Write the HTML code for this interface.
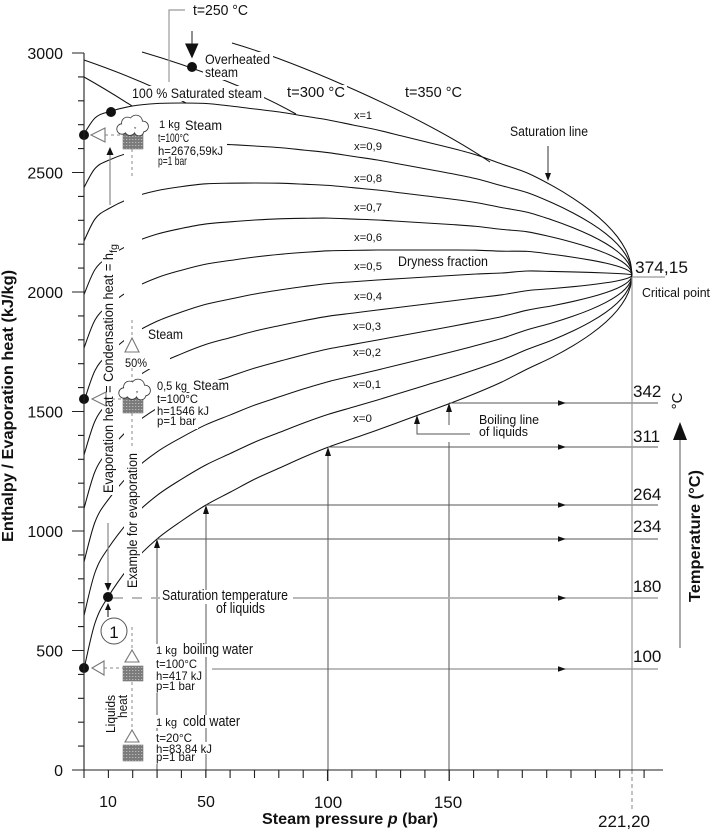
<!DOCTYPE html>
<html><head><meta charset="utf-8">
<style>
html,body{margin:0;padding:0;background:#fff;}
svg{display:block;}
text{font-family:"Liberation Sans",Arial,sans-serif;fill:#111;}
</style></head>
<body>
<svg id="s" width="712" height="829" viewBox="0 0 712 829" xmlns="http://www.w3.org/2000/svg">
<defs>
<pattern id="dots" width="3" height="3" patternUnits="userSpaceOnUse"><rect width="3" height="3" fill="#7b7b7b"/><rect x="0" y="1" width="1.3" height="1" fill="#b8b8b8"/></pattern>
</defs>
<rect width="712" height="829" fill="#fff"/>
<g id="curves" fill="none" stroke="#111" stroke-width="1.05"></g>
<g fill="none" stroke="#111" stroke-width="1.05">
<path d="M84,60 C110,69 150,84 186,103"/>
<path d="M84,77 C100,86 118,97 132,106"/>
<path d="M142,52 C190,66 250,88 296,114"/>
<path d="M232,43 C300,63 420,115 490,162"/>
</g>

<!-- grid / annotation lines -->
<g stroke="#555" stroke-width="1" fill="none">
<line x1="449" y1="403" x2="658" y2="403"/>
<line x1="328" y1="447" x2="658" y2="447"/>
<line x1="206" y1="505" x2="658" y2="505"/>
<line x1="157" y1="539" x2="658" y2="539"/>
<line x1="212" y1="669" x2="658" y2="669" stroke="#777"/>
<line x1="328" y1="455" x2="328" y2="781"/>
<line x1="449" y1="410" x2="449" y2="425"/>
<line x1="449" y1="442" x2="449" y2="781"/>
<line x1="206" y1="512" x2="206" y2="777"/>
<line x1="157" y1="546" x2="157" y2="777"/>
<polyline points="417,422 417,434 470,434"/>
<line x1="548" y1="146" x2="548" y2="174" stroke="#333"/>
<line x1="680" y1="438" x2="680" y2="648"/>
<line x1="192" y1="31" x2="192" y2="44" stroke="#222"/>
</g>
<line x1="113" y1="598" x2="160" y2="598" stroke="#b0b0b0" stroke-width="1.7" stroke-dasharray="10,9"/>
<line x1="293" y1="598" x2="658" y2="598" stroke="#b0b0b0" stroke-width="1.7"/>
<polyline points="185,10 169,10 169,82" fill="none" stroke="#999" stroke-width="1.2"/>
<line x1="632" y1="277" x2="632" y2="770" stroke="#999" stroke-width="1.2"/>
<line x1="632" y1="770" x2="632" y2="810" stroke="#999" stroke-width="1.2" stroke-dasharray="4,3"/>
<line x1="632" y1="277" x2="665" y2="277" stroke="#999" stroke-width="1.2"/>

<!-- arrowheads -->
<g fill="#111">
<polygon points="558,400.2 566,403 558,405.8"/>
<polygon points="558,444.2 566,447 558,449.8"/>
<polygon points="558,502.2 566,505 558,507.8"/>
<polygon points="558,536.2 566,539 558,541.8"/>
<polygon points="558,595.2 566,598 558,600.8"/>
<polygon points="558,666.2 566,669 558,671.8"/>
<polygon points="325,456 331,456 328,447"/>
<polygon points="446,412 452,412 449,403"/>
<polygon points="414,424 420,424 417,415"/>
<polygon points="203,514 209,514 206,505"/>
<polygon points="154,548 160,548 157,539"/>
<polygon points="545,173 551,173 548,181"/>
<polygon points="673,440 687,440 680,422"/>
<polygon points="185,43.5 198.5,43.5 192,58.5"/>
</g>

<!-- masks -->
<g fill="#fff">
<rect x="124" y="172" width="18" height="418"/>
<rect x="102" y="243" width="17" height="252"/>
<rect x="203" y="52" width="70" height="14"/>
<rect x="203" y="66" width="38" height="14"/>
<rect x="130" y="86" width="134" height="15"/>
<rect x="285" y="85" width="62" height="14"/>
<rect x="124" y="117" width="103" height="52"/>
<rect x="146" y="327" width="40" height="14"/>
<rect x="142" y="343" width="28" height="26"/>
<rect x="155" y="380" width="76" height="12"/>
<rect x="155" y="393" width="45" height="12"/>
<rect x="155" y="405" width="56" height="12"/>
<rect x="155" y="417" width="43" height="12"/>
<rect x="160" y="590" width="131" height="14"/>
<rect x="214" y="603" width="54" height="14"/>
<rect x="155" y="644" width="100" height="13"/>
<rect x="155" y="657" width="44" height="12"/>
<rect x="155" y="669" width="49" height="12"/>
<rect x="155" y="681" width="42" height="12"/>
<rect x="155" y="715" width="88" height="13"/>
<rect x="155" y="731" width="39" height="12"/>
<rect x="155" y="742" width="59" height="12"/>
<rect x="155" y="753" width="42" height="11"/>
</g>

<!-- left arrows -->
<g stroke="#888" stroke-width="1.2" fill="none">
<line x1="110" y1="205" x2="110" y2="153"/>
<line x1="108" y1="523" x2="108" y2="585"/>
<line x1="108" y1="617" x2="108" y2="609" stroke="#333"/>
</g>
<g fill="#111">
<polygon points="106.5,155 113.5,155 110,147"/>
<polygon points="104.5,583 111.5,583 108,591"/>
<polygon points="105,610 111,610 108,603"/>
</g>

<!-- dashed lines at 132 and horizontals -->
<g stroke="#888" stroke-width="1" stroke-dasharray="3,3" fill="none">
<line x1="132" y1="149" x2="132" y2="176"/>
<line x1="132" y1="320" x2="132" y2="338"/>
<line x1="132" y1="368" x2="132" y2="383"/>
<line x1="132" y1="413" x2="132" y2="446"/>
<line x1="132" y1="627" x2="132" y2="650"/>
<line x1="132" y1="682" x2="132" y2="730"/>
<line x1="105" y1="135" x2="123" y2="135"/>
<line x1="106" y1="399" x2="122" y2="399"/>
<line x1="104" y1="668" x2="123" y2="668"/>
</g>
<g stroke="#777" stroke-width="1.1" fill="#fff">
<polygon points="91,135 105,128 105,142"/>
<polygon points="92,399 106,392 106,406"/>
<polygon points="92,668 104,661 104,675"/>
<polygon points="132,338 125,352 139,352"/>
<polygon points="132,650 125,662 139,662"/>
<polygon points="132,730 125,742 139,742"/>
</g>

<!-- boxes -->
<g fill="url(#dots)" stroke="#777" stroke-width="0.6">
<rect x="123" y="133" width="20" height="16"/>
<rect x="123" y="398" width="20" height="15"/>
<rect x="123" y="666" width="20" height="15"/>
<rect x="123" y="745" width="20" height="16"/>
</g>
<!-- clouds -->
<g id="cloud1">
<g stroke="#333" stroke-width="1.6" fill="none">
<circle cx="122" cy="129" r="4.8"/><circle cx="127.5" cy="123" r="5.5"/><circle cx="136" cy="121.5" r="6"/><circle cx="143" cy="126.5" r="5"/><circle cx="139" cy="131" r="4.5"/><circle cx="130" cy="130" r="5"/>
</g>
<g fill="#fff">
<circle cx="122" cy="129" r="4.8"/><circle cx="127.5" cy="123" r="5.5"/><circle cx="136" cy="121.5" r="6"/><circle cx="143" cy="126.5" r="5"/><circle cx="139" cy="131" r="4.5"/><circle cx="130" cy="130" r="5"/>
</g>
</g>
<g transform="translate(2,264)">
<g stroke="#333" stroke-width="1.6" fill="none">
<circle cx="122" cy="129" r="4.8"/><circle cx="127.5" cy="123" r="5.5"/><circle cx="136" cy="121.5" r="6"/><circle cx="143" cy="126.5" r="5"/><circle cx="139" cy="131" r="4.5"/><circle cx="130" cy="130" r="5"/>
</g>
<g fill="#fff">
<circle cx="122" cy="129" r="4.8"/><circle cx="127.5" cy="123" r="5.5"/><circle cx="136" cy="121.5" r="6"/><circle cx="143" cy="126.5" r="5"/><circle cx="139" cy="131" r="4.5"/><circle cx="130" cy="130" r="5"/>
</g>
</g>

<circle cx="114" cy="631" r="13" fill="#fff" stroke="#555" stroke-width="1"/>
<text x="114" y="638" font-size="17" text-anchor="middle">1</text>

<!-- dots -->
<g fill="#111">
<circle cx="84" cy="135" r="5"/>
<circle cx="111" cy="112" r="5"/>
<circle cx="84" cy="399" r="5"/>
<circle cx="108" cy="597" r="5"/>
<circle cx="84" cy="668" r="5"/>
<circle cx="192" cy="67" r="5"/>
</g>

<!-- axes -->
<g stroke="#222" stroke-width="1.1" fill="none">
<line x1="84" y1="53" x2="84" y2="770"/>
<line x1="84" y1="770" x2="663" y2="770"/>
<path d="M72,770H84M72,650.5H84M72,531H84M72,411.5H84M72,292H84M72,172.5H84M72,53H84"/>
<path d="M78,746.1H84M78,722.2H84M78,698.3H84M78,674.4H84M78,626.6H84M78,602.7H84M78,578.8H84M78,554.9H84M78,507.1H84M78,483.2H84M78,459.3H84M78,435.4H84M78,387.6H84M78,363.7H84M78,339.8H84M78,315.9H84M78,268.1H84M78,244.2H84M78,220.3H84M78,196.4H84M78,148.6H84M78,124.7H84M78,100.8H84M78,76.9H84"/>
<path d="M84,770V778M108.4,770V778M132.7,770V778M157.1,770V778M181.4,770V778M205.8,770V778M230.1,770V778M254.5,770V778M278.8,770V778M303.2,770V778M327.5,770V781M351.9,770V778M376.2,770V778M400.6,770V778M424.9,770V778M449.3,770V781M473.6,770V778M498,770V778M522.3,770V778M546.7,770V778M571,770V778M595.4,770V778M619.7,770V778M644.1,770V778"/>
</g>

<!-- axis labels -->
<g font-size="16" text-anchor="end">
<text x="63" y="59">3000</text>
<text x="63" y="178.5">2500</text>
<text x="63" y="298">2000</text>
<text x="63" y="417.5">1500</text>
<text x="63" y="537">1000</text>
<text x="63" y="656.5">500</text>
<text x="63" y="776">0</text>
</g>
<g font-size="17" text-anchor="middle">
<text x="108" y="807" font-size="16">10</text>
<text x="206" y="807" font-size="16">50</text>
<text x="328" y="808">100</text>
<text x="448" y="808">150</text>
<text x="624" y="827">221,20</text>
</g>
<text x="262" y="824" font-size="16" font-weight="bold" textLength="176" lengthAdjust="spacingAndGlyphs">Steam pressure <tspan font-style="italic">p</tspan> (bar)</text>
<text transform="translate(13,406) rotate(-90)" font-size="16" font-weight="bold" text-anchor="middle" textLength="272" lengthAdjust="spacingAndGlyphs">Enthalpy / Evaporation heat (kJ/kg)</text>
<text transform="translate(700,536) rotate(-90)" font-size="16" font-weight="bold" text-anchor="middle" textLength="132" lengthAdjust="spacingAndGlyphs">Temperature (°C)</text>
<text transform="translate(682,401) rotate(-90)" font-size="15" text-anchor="middle">°C</text>

<!-- right labels -->
<g font-size="17">
<text x="635" y="273" textLength="53" lengthAdjust="spacingAndGlyphs">374,15</text>
<text x="633" y="397">342</text>
<text x="633" y="442">311</text>
<text x="633" y="500">264</text>
<text x="633" y="532">234</text>
<text x="633" y="592">180</text>
<text x="633" y="662">100</text>
</g>
<text x="642" y="297" font-size="13" textLength="68" lengthAdjust="spacingAndGlyphs">Critical point</text>

<!-- top labels -->
<text x="193" y="15" font-size="15" textLength="55" lengthAdjust="spacingAndGlyphs">t=250 °C</text>
<text x="205" y="64" font-size="14" textLength="65" lengthAdjust="spacingAndGlyphs">Overheated</text>
<text x="205" y="77" font-size="14" textLength="33" lengthAdjust="spacingAndGlyphs">steam</text>
<text x="132" y="98" font-size="14" textLength="130" lengthAdjust="spacingAndGlyphs">100 % Saturated steam</text>
<text x="287" y="97" font-size="14.5" textLength="58" lengthAdjust="spacingAndGlyphs">t=300 °C</text>
<text x="405" y="97" font-size="14.5" textLength="57" lengthAdjust="spacingAndGlyphs">t=350 °C</text>
<text x="510" y="136" font-size="13.5" textLength="78" lengthAdjust="spacingAndGlyphs">Saturation line</text>
<text x="398" y="266" font-size="13.5" textLength="90" lengthAdjust="spacingAndGlyphs">Dryness fraction</text>
<text x="479" y="424" font-size="13" textLength="60" lengthAdjust="spacingAndGlyphs">Boiling line</text>
<text x="479" y="436" font-size="13" textLength="49" lengthAdjust="spacingAndGlyphs">of liquids</text>

<g font-size="11">
<text x="354" y="119" textLength="18" lengthAdjust="spacingAndGlyphs">x=1</text>
<text x="354" y="150" textLength="28" lengthAdjust="spacingAndGlyphs">x=0,9</text>
<text x="354" y="182" textLength="28" lengthAdjust="spacingAndGlyphs">x=0,8</text>
<text x="354" y="211" textLength="28" lengthAdjust="spacingAndGlyphs">x=0,7</text>
<text x="354" y="241" textLength="28" lengthAdjust="spacingAndGlyphs">x=0,6</text>
<text x="354" y="270" textLength="28" lengthAdjust="spacingAndGlyphs">x=0,5</text>
<text x="354" y="300" textLength="28" lengthAdjust="spacingAndGlyphs">x=0,4</text>
<text x="353" y="330" textLength="28" lengthAdjust="spacingAndGlyphs">x=0,3</text>
<text x="353" y="356" textLength="28" lengthAdjust="spacingAndGlyphs">x=0,2</text>
<text x="353" y="388" textLength="28" lengthAdjust="spacingAndGlyphs">x=0,1</text>
<text x="353" y="422" textLength="19" lengthAdjust="spacingAndGlyphs">x=0</text>
</g>

<!-- left block texts -->
<text x="159" y="128" font-size="11" textLength="21" lengthAdjust="spacingAndGlyphs">1 kg</text>
<text x="185" y="130" font-size="14" textLength="37" lengthAdjust="spacingAndGlyphs">Steam</text>
<text x="158" y="142" font-size="12" textLength="31" lengthAdjust="spacingAndGlyphs">t=100°C</text>
<text x="158" y="155" font-size="12" textLength="65" lengthAdjust="spacingAndGlyphs">h=2676,59kJ</text>
<text x="158" y="165" font-size="12" textLength="29" lengthAdjust="spacingAndGlyphs">p=1 bar</text>

<text x="148" y="339" font-size="14" textLength="35" lengthAdjust="spacingAndGlyphs">Steam</text>
<text x="125" y="367" font-size="11.5" textLength="22" lengthAdjust="spacingAndGlyphs">50%</text>
<text x="157" y="390" font-size="12" textLength="30" lengthAdjust="spacingAndGlyphs">0,5 kg</text>
<text x="193" y="390" font-size="14" textLength="36" lengthAdjust="spacingAndGlyphs">Steam</text>
<text x="157" y="403" font-size="12" textLength="41" lengthAdjust="spacingAndGlyphs">t=100°C</text>
<text x="157" y="415" font-size="12" textLength="52" lengthAdjust="spacingAndGlyphs">h=1546 kJ</text>
<text x="157" y="425" font-size="12" textLength="39" lengthAdjust="spacingAndGlyphs">p=1 bar</text>

<text x="162" y="600" font-size="14.5" textLength="126" lengthAdjust="spacingAndGlyphs">Saturation temperature</text>
<text x="216" y="613" font-size="14.5" textLength="49" lengthAdjust="spacingAndGlyphs">of liquids</text>

<text x="156" y="654" font-size="11" textLength="21" lengthAdjust="spacingAndGlyphs">1 kg</text>
<text x="183" y="654" font-size="14.5" textLength="70" lengthAdjust="spacingAndGlyphs">boiling water</text>
<text x="156" y="668" font-size="12" textLength="41" lengthAdjust="spacingAndGlyphs">t=100°C</text>
<text x="156" y="680" font-size="12" textLength="46" lengthAdjust="spacingAndGlyphs">h=417 kJ</text>
<text x="156" y="690" font-size="12" textLength="39" lengthAdjust="spacingAndGlyphs">p=1 bar</text>

<text x="156" y="726" font-size="11" textLength="21" lengthAdjust="spacingAndGlyphs">1 kg</text>
<text x="183" y="726" font-size="14.5" textLength="57" lengthAdjust="spacingAndGlyphs">cold water</text>
<text x="156" y="742" font-size="12" textLength="36" lengthAdjust="spacingAndGlyphs">t=20°C</text>
<text x="156" y="753" font-size="12" textLength="56" lengthAdjust="spacingAndGlyphs">h=83,84 kJ</text>
<text x="156" y="761" font-size="12" textLength="39" lengthAdjust="spacingAndGlyphs">p=1 bar</text>

<!-- rotated left texts -->
<text transform="translate(113,493) rotate(-90)" font-size="14" textLength="240" lengthAdjust="spacingAndGlyphs">Evaporation heat = Condensation heat = h</text>
<text transform="translate(117,253) rotate(-90)" font-size="10" textLength="9" lengthAdjust="spacingAndGlyphs">fg</text>
<text transform="translate(137,588) rotate(-90)" font-size="13.5" textLength="135" lengthAdjust="spacingAndGlyphs">Example for evaporation</text>
<text transform="translate(115,733) rotate(-90)" font-size="13" textLength="38" lengthAdjust="spacingAndGlyphs">Liquids</text>
<text transform="translate(127,718) rotate(-90)" font-size="13" textLength="23" lengthAdjust="spacingAndGlyphs">heat</text>
</svg>
<script>
(function(){
var X=[84,95,108,132.5,157,181.5,206,230.5,255,279.5,304,328.5,353,377.5,402,426.5,451,476.4,501.8,527.3];
var Y0=[669,623,597,563,539,521,505,492,479,468,457,447,438.5,430,421,412,403,393,382,369];
var Y1=[134,118,112,106,103.5,103,103.5,106,109,112,116,120,125,130,136,142,148,155,164,173];
var us=[0.125,0.25,0.375,0.5,0.625,0.75,0.875,1];
for(var i=0;i<us.length;i++){
  var x=632-104.7*Math.pow(1-us[i],2);
  X.push(x);
  Y0.push(275+Math.sqrt(Math.max(0,(632-x))/0.0118));
  Y1.push(275-Math.sqrt(Math.max(0,(632-x))/0.01));
}
function f(v){return v.toFixed(2);}
function cr(P){
  var d='M'+f(P[0][0])+','+f(P[0][1]);
  for(var i=0;i<P.length-1;i++){
    var p0=P[i-1]||P[i],p1=P[i],p2=P[i+1],p3=P[i+2]||P[i+1];
    var c1x=p1[0]+(p2[0]-p0[0])/6,c1y=p1[1]+(p2[1]-p0[1])/6;
    var c2x=p2[0]-(p3[0]-p1[0])/6,c2y=p2[1]-(p3[1]-p1[1])/6;
    d+=' C'+f(c1x)+','+f(c1y)+' '+f(c2x)+','+f(c2y)+' '+f(p2[0])+','+f(p2[1]);
  }
  return d;
}
var g=document.getElementById('curves');
for(var k=0;k<=10;k++){
  var q=k/10,P=[];
  for(var j=0;j<X.length;j++)P.push([X[j],Y0[j]+q*(Y1[j]-Y0[j])]);
  var p=document.createElementNS('http://www.w3.org/2000/svg','path');
  p.setAttribute('d',cr(P));
  g.appendChild(p);
}
})();
</script>
</body></html>
